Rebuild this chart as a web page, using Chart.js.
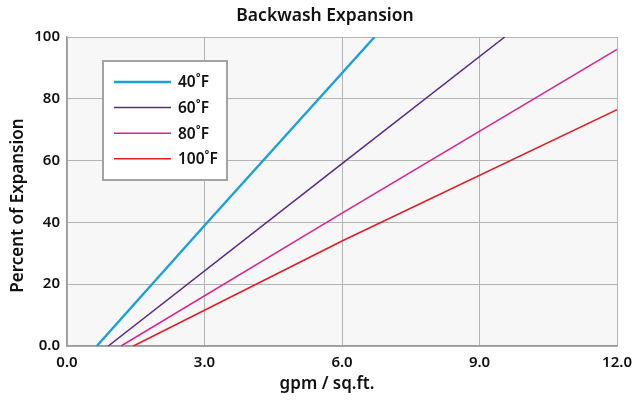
<!DOCTYPE html>
<html>
<head>
<meta charset="utf-8">
<script src="https://cdn.jsdelivr.net/npm/chart.js@4.4.1/dist/chart.umd.min.js"></script>
<style>
  html, body { margin: 0; padding: 0; background: #fff; }
  #wrap { width: 640px; height: 402px; }
</style>
</head>
<body>
<div id="wrap"><canvas id="expansionChart" width="640" height="402"></canvas></div>
<script>
// series (x = gpm / sq.ft., y = % expansion)
const seriesLabels = ['40˚F', '60˚F', '80˚F', '100˚F'];
const flow40 = [0.65, 3.0, 6.71];
const exp40 = [0, 39, 100];
const flow60 = [0.9, 6.0, 9.55];
const exp60 = [0, 59, 100];
const flow80 = [1.18, 6.0, 12.0];
const exp80 = [0, 43, 96];
const flow100 = [1.45, 6.0, 12.0];
const exp100 = [0, 34, 76.5];

const xTicks = [0, 3, 6, 9, 12];
const yTicks = [0, 20, 40, 60, 80, 100];
const chartTitle = 'Backwash Expansion';
const xTitle = 'gpm / sq.ft.';
const yTitle = 'Percent of Expansion';

const lineColors = ['#1ba1d9', '#5a2a88', '#d9258b', '#e11d24'];
const lineWidths = [2.4, 1.5, 1.6, 1.6];

const FONT = "'Noto Sans', 'Open Sans', sans-serif";

const toPoints = (xs, ys) => xs.map((x, i) => ({ x: x, y: ys[i] }));
const allX = [flow40, flow60, flow80, flow100];
const allY = [exp40, exp60, exp80, exp100];

// light plot background
const plotBg = {
    id: 'plotBg',
    beforeDraw(chart) {
        const { ctx, chartArea: a } = chart;
        ctx.save();
        ctx.fillStyle = '#f7f7f7';
        ctx.fillRect(a.left, a.top, a.right - a.left, a.bottom - a.top);
        ctx.restore();
    }
};

// chart + axis titles, placed a bit off-centre like the original
const titles = {
    id: 'titles',
    afterDraw(chart) {
        const { ctx, chartArea: a } = chart;
        const mid = (a.left + a.right) / 2;
        ctx.save();
        ctx.fillStyle = '#111';
        ctx.textAlign = 'center';
        ctx.textBaseline = 'middle';
        ctx.font = '600 17.5px ' + FONT;
        ctx.fillText(chartTitle, mid - 17, 16);
        ctx.font = '600 17px ' + FONT;
        ctx.fillText(xTitle, mid - 15, 384);
        ctx.translate(18, (a.top + a.bottom) / 2 + 14);
        ctx.rotate(-Math.PI / 2);
        ctx.fillText(yTitle, 0, 0);
        ctx.restore();
    }
};

// boxed legend inside the plot, top-left
const boxLegend = {
    id: 'boxLegend',
    afterDatasetsDraw(chart) {
        const { ctx, chartArea: a } = chart;
        const x = a.left + 36, y = a.top + 24, w = 124, h = 119;
        ctx.save();
        ctx.fillStyle = '#ffffff';
        ctx.fillRect(x, y, w, h);
        ctx.strokeStyle = '#a3a3a3';
        ctx.lineWidth = 2;
        ctx.strokeRect(x, y, w, h);
        ctx.font = '600 15.5px ' + FONT;
        ctx.textBaseline = 'middle';
        chart.data.datasets.forEach((ds, i) => {
            const ry = y + 21 + i * 25.6;
            ctx.strokeStyle = ds.borderColor;
            ctx.lineWidth = ds.borderWidth;
            ctx.beginPath();
            ctx.moveTo(x + 11, ry);
            ctx.lineTo(x + 68, ry);
            ctx.stroke();
            ctx.fillStyle = '#111';
            ctx.fillText(ds.label, x + 75, ry + 1);
        });
        ctx.restore();
    }
};

const ctx = document.getElementById('expansionChart').getContext('2d');
new Chart(ctx, {
    type: 'line',
    data: {
        datasets: seriesLabels.map((label, i) => ({
            label: label,
            data: toPoints(allX[i], allY[i]),
            borderColor: lineColors[i],
            borderWidth: lineWidths[i],
            pointRadius: 0,
            tension: 0,
            fill: false
        }))
    },
    options: {
        responsive: false,
        animation: false,
        layout: { padding: { left: 0, right: 22, top: 37, bottom: 0 } },
        plugins: {
            legend: { display: false },
            tooltip: { enabled: false },
            title: { display: false }
        },
        scales: {
            x: {
                type: 'linear',
                min: 0,
                max: 12,
                afterBuildTicks: (scale) => { scale.ticks = xTicks.map(v => ({ value: v })); },
                afterFit: (scale) => { scale.height = 56; },
                border: { color: '#9a9a9a', width: 1.5 },
                grid: { color: '#b4b4b4', lineWidth: 1, drawTicks: false },
                ticks: {
                    color: '#111',
                    padding: 8,
                    font: { family: FONT, size: 15, weight: '600' },
                    callback: (v) => Number(v).toFixed(1)
                }
            },
            y: {
                min: 0,
                max: 100,
                afterBuildTicks: (scale) => { scale.ticks = yTicks.map(v => ({ value: v })); },
                afterFit: (scale) => { scale.width = 67; },
                border: { color: '#9a9a9a', width: 1.5 },
                grid: { color: '#b4b4b4', lineWidth: 1, drawTicks: false },
                ticks: {
                    color: '#111',
                    padding: 7,
                    font: { family: FONT, size: 15, weight: '600' },
                    callback: (v) => v === 0 ? '0.0' : String(v)
                }
            }
        }
    },
    plugins: [plotBg, boxLegend, titles]
});
</script>
</body>
</html>
